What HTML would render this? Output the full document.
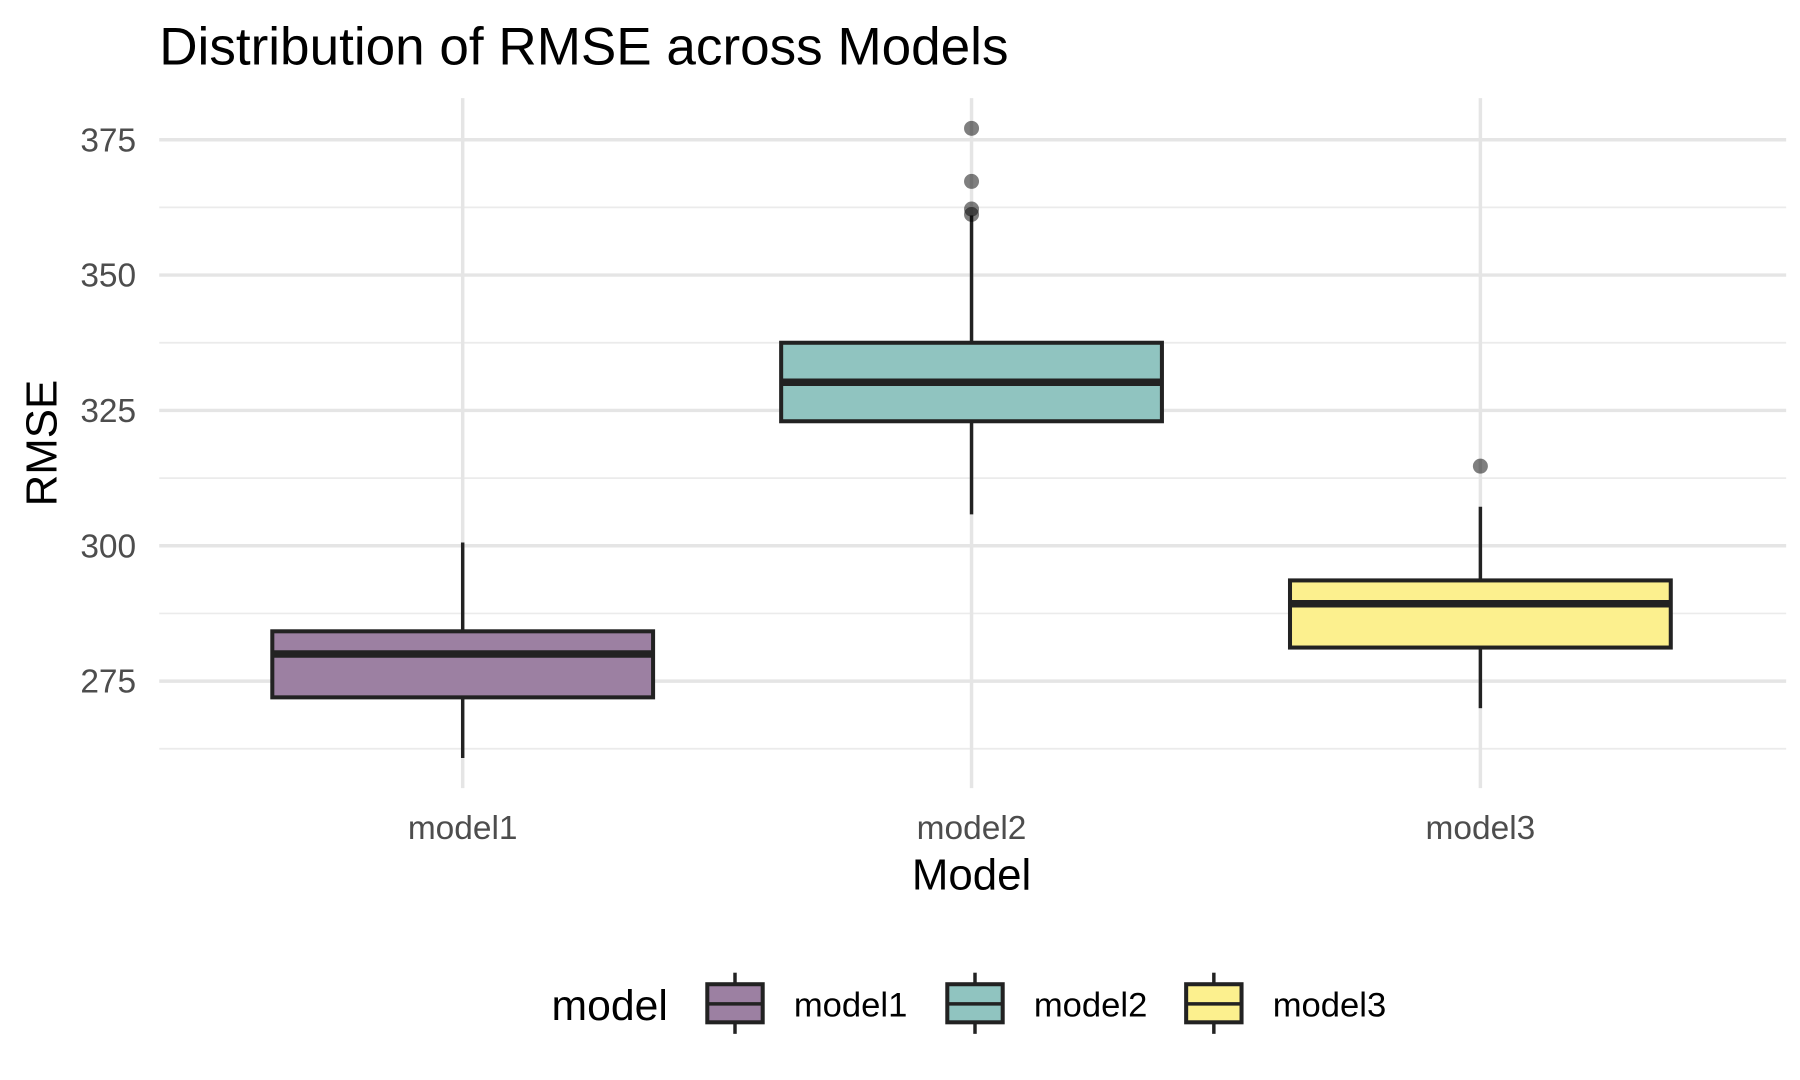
<!DOCTYPE html>
<html><head><meta charset="utf-8"><style>
html,body{margin:0;padding:0;background:#fff;}
svg{display:block;font-family:"Liberation Sans",sans-serif;}
</style></head><body>
<svg id="chart" width="1800" height="1080" viewBox="0 0 1560 936" xmlns="http://www.w3.org/2000/svg">
<rect width="1560" height="936" fill="#fff"/>
<text x="138" y="56" font-size="46" fill="#000">Distribution of RMSE across Models</text>
<g id="grid"></g>
<g id="marks"></g>
<g id="axes"></g>
<text x="842" y="771" font-size="38" text-anchor="middle" fill="#000">Model</text>
<text transform="translate(49,384) rotate(-90)" font-size="38" text-anchor="middle" fill="#000">RMSE</text>
<g id="legend"></g>
</svg>
<script>
const categories = ["model1","model2","model3"];
const lowerWhisker = [260.8, 305.8, 270.0];
const q1 = [272.0, 323.0, 281.2];
const median = [280.0, 330.2, 289.3];
const q3 = [284.2, 337.5, 293.6];
const upperWhisker = [300.6, 361.0, 307.2];
const outliers = [[], [377.1, 367.3, 362.2, 361.2], [314.7]];
const fills = ["#9c80a2", "#90c4c0", "#fcf08e"];
const majorTicks = [275, 300, 325, 350, 375];
const minorTicks = [262.5, 287.5, 312.5, 337.5, 362.5];

const NS = "http://www.w3.org/2000/svg";
function y(v){ return 473 - (v - 300) * (117.3 / 25); }
function x(i){ return 401 + i * 441; }
const halfW = 165;
function mk(tag, attrs, parent){
  const e = document.createElementNS(NS, tag);
  for (const k in attrs) e.setAttribute(k, attrs[k]);
  parent.appendChild(e); return e;
}
const grid = document.getElementById('grid');
const marks = document.getElementById('marks');
const axes = document.getElementById('axes');
const legend = document.getElementById('legend');

minorTicks.forEach(t => {
  const l = mk('line', {x1:138, x2:1548, y1:y(t), y2:y(t), stroke:'#ebebeb', 'stroke-width':1.5}, grid);
  
  
});
majorTicks.forEach(t => {
  const l = mk('line', {x1:138, x2:1548, y1:y(t), y2:y(t), stroke:'#e5e5e5', 'stroke-width':3}, grid);
  
  
  const tx = mk('text', {x:118, y:y(t)+10, 'font-size':29, 'text-anchor':'end', fill:'#4d4d4d'}, axes);
  tx.textContent = t;
  
  
});
categories.forEach((c, i) => {
  const l = mk('line', {x1:x(i), x2:x(i), y1:85, y2:683, stroke:'#e5e5e5', 'stroke-width':3}, grid);
  
  
  const tx = mk('text', {x:x(i), y:727, 'font-size':29, 'text-anchor':'middle', fill:'#4d4d4d'}, axes);
  tx.textContent = c;
  
  

  const g = mk('g', {}, marks);
  
  
  mk('line', {x1:x(i), x2:x(i), y1:y(upperWhisker[i]), y2:y(q3[i]), stroke:'#222', 'stroke-width':3}, g);
  mk('line', {x1:x(i), x2:x(i), y1:y(q1[i]), y2:y(lowerWhisker[i]), stroke:'#222', 'stroke-width':3}, g);
  mk('rect', {x:x(i)-halfW, y:y(q3[i]), width:2*halfW, height:y(q1[i])-y(q3[i]), fill:fills[i], stroke:'#222', 'stroke-width':3.5}, g);
  mk('line', {x1:x(i)-halfW, x2:x(i)+halfW, y1:y(median[i]), y2:y(median[i]), stroke:'#222', 'stroke-width':6.5}, g);
  outliers[i].forEach(o => {
    const p = mk('circle', {cx:x(i), cy:y(o), r:6.5, fill:'#000', 'fill-opacity':0.5}, marks);
    
    
  });
});

const lt = mk('text', {x:478, y:884, 'font-size':37, fill:'#000'}, legend);
lt.textContent = 'model';


const keyX = [637, 845, 1052];
categories.forEach((c, i) => {
  const g = mk('g', {}, legend);
  
  
  const cx = keyX[i];
  mk('line', {x1:cx, x2:cx, y1:843, y2:896, stroke:'#222', 'stroke-width':3}, g);
  mk('rect', {x:cx-24, y:853, width:48, height:33, fill:fills[i], stroke:'#222', 'stroke-width':3.5}, g);
  mk('line', {x1:cx-24, x2:cx+24, y1:870, y2:870, stroke:'#222', 'stroke-width':3}, g);
  const t = mk('text', {x:cx+51, y:881, 'font-size':30, fill:'#000'}, g);
  t.textContent = c;
});
</script>
</body></html>
